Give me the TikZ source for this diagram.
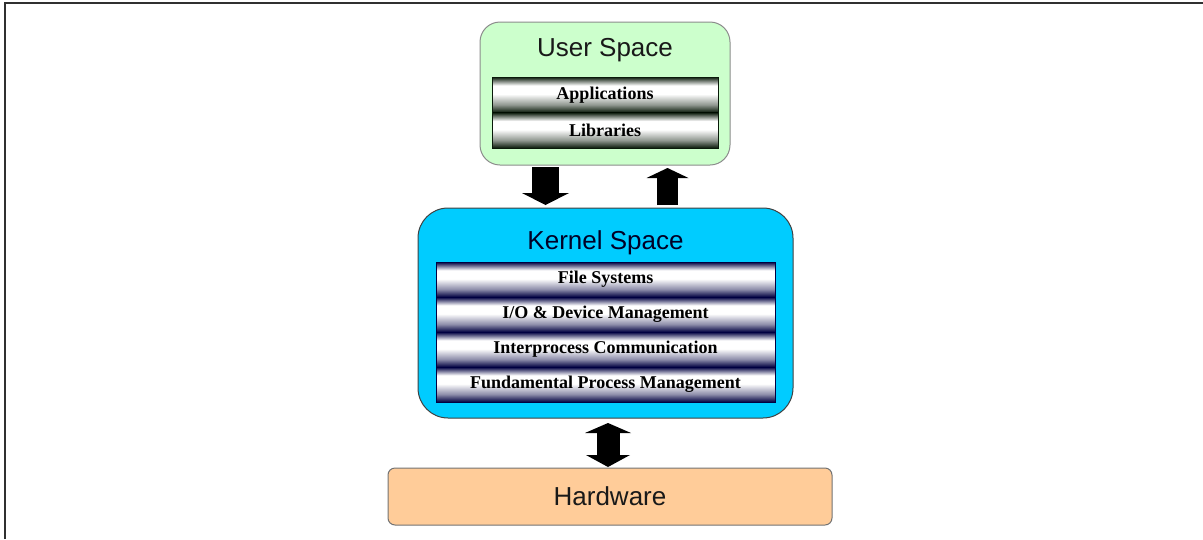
\documentclass[tikz,border=0pt]{standalone}
\usepackage{fontspec}
\setmainfont{Liberation Serif}
\newfontfamily\headfont{Liberation Sans}
\usetikzlibrary{arrows.meta}

\definecolor{userfill}{HTML}{CCFFCC}
\definecolor{kernfill}{HTML}{00CCFF}
\definecolor{hwfill}{HTML}{FFCC99}
\definecolor{udark}{HTML}{0A1A0A}
\definecolor{kdark}{HTML}{000040}
\definecolor{framecol}{HTML}{303030}
\colorlet{umid}{udark!45!white}
\colorlet{kmid}{kdark!45!white}

% glossy layer bars: dark rims, bright band slightly above the middle
% (TikZ fits the 25bp--75bp part of a shading to the path)
\pgfdeclareverticalshading{ubarshade}{100bp}{color(0bp)=(udark); color(25bp)=(udark); color(36bp)=(umid); color(51bp)=(white); color(63bp)=(white); color(75bp)=(udark); color(100bp)=(udark)}
\pgfdeclareverticalshading{kbarshade}{100bp}{color(0bp)=(kdark); color(25bp)=(kdark); color(36bp)=(kmid); color(51bp)=(white); color(63bp)=(white); color(75bp)=(kdark); color(100bp)=(kdark)}

\begin{document}
\begin{tikzpicture}[x=1pt,y=-1pt,
  spacebox/.style={rectangle, inner sep=0pt, outer sep=0pt, line width=1pt},
  title/.style={font=\headfont\fontsize{26}{30}\selectfont, text=black!90, inner sep=0pt},
  layerbar/.style={rectangle, inner sep=0pt, outer sep=0pt,
    font=\bfseries\fontsize{18}{20}\selectfont, text=black},
  ubar/.style={layerbar, shading=ubarshade, minimum width=226pt, minimum height=35.5pt},
  kbar/.style={layerbar, shading=kbarshade, minimum width=339pt, minimum height=35pt},
  blockarrow/.style={draw=black, line cap=butt}
]
\useasboundingbox (0,0) rectangle (1203,539);

% page frame
\draw[framecol, line width=2pt] (5,539) -- (5,3) -- (1203,3);

% user space
\node[spacebox, fill=userfill, draw=black!45, rounded corners=20pt,
      minimum width=250pt, minimum height=143pt] (user) at (605,93.5) {};
\node[title] (utitle) at (605,50) {User Space};
\node[ubar] (apps) at (605,94.75) {Applications};
\node[ubar] (libs) at (605,130.25) {Libraries};
\draw[udark, line width=1pt] (apps.north west) rectangle (libs.south east);

% kernel space
\node[spacebox, fill=kernfill, draw=black!75, rounded corners=30pt,
      minimum width=375pt, minimum height=210pt] (kern) at (605.5,313) {};
\node[title, text=black!85!blue] (ktitle) at (605.5,243) {Kernel Space};
\node[kbar] (fs) at (605.5,279.5) {File Systems};
\node[kbar] (io) at (605.5,314.5) {I/O \& Device Management};
\node[kbar] (ipc) at (605.5,349.5) {Interprocess Communication};
\node[kbar] (fpm) at (605.5,384.5) {Fundamental Process Management};
\draw[kdark, line width=1pt] (fs.north west) rectangle (fpm.south east);

% hardware
\node[spacebox, fill=hwfill, draw=black!55, rounded corners=7pt,
      minimum width=444pt, minimum height=57pt,
      font=\headfont\fontsize{26}{30}\selectfont, text=black!90] (hw) at (610,496.5) {Hardware};

% block arrows between the layers
\coordinate (downx) at (545.5,0);
\coordinate (upx) at (667.5,0);
\coordinate (bothx) at (608,0);
\draw[blockarrow, line width=27pt,
      -{Triangle[width=47pt,length=12pt,line width=0pt]},
      shorten <=2pt, shorten >=3pt]
  (user.south -| downx) -- (kern.north -| downx);
\draw[blockarrow, line width=21pt,
      -{Triangle[width=42pt,length=10pt,line width=0pt]},
      shorten <=3pt, shorten >=3pt]
  (kern.north -| upx) -- (user.south -| upx);
\draw[blockarrow, line width=23pt,
      {Triangle[width=46pt,length=10pt,line width=0pt]}-{Triangle[width=44pt,length=12pt,line width=0pt]},
      shorten <=5pt, shorten >=1pt]
  (kern.south -| bothx) -- (hw.north -| bothx);
\end{tikzpicture}
\end{document}
